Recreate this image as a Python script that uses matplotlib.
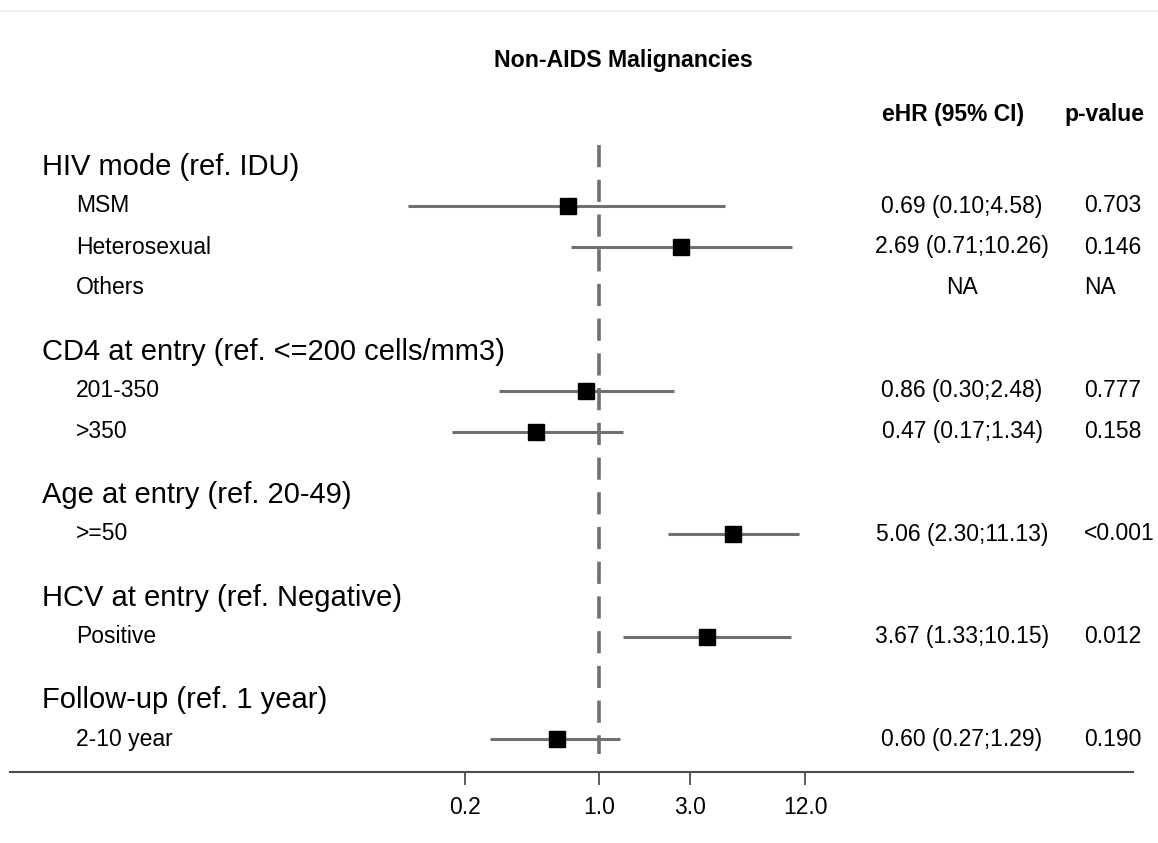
import numpy as np
import matplotlib
matplotlib.use('Agg')
import matplotlib.pyplot as plt
from matplotlib import transforms
from matplotlib.lines import Line2D

plt.rcParams['font.family'] = ['Liberation Sans', 'DejaVu Sans']
plt.rcParams['lines.scale_dashes'] = False

# data
groups = ['HIV mode (ref. IDU)', 'CD4 at entry (ref. <=200 cells/mm3)',
          'Age at entry (ref. 20-49)', 'HCV at entry (ref. Negative)',
          'Follow-up (ref. 1 year)']
group_items = [['MSM', 'Heterosexual', 'Others'],
               ['201-350', '>350'],
               ['>=50'],
               ['Positive'],
               ['2-10 year']]
hr = [0.69, 2.69, np.nan, 0.86, 0.47, 5.06, 3.67, 0.60]
ci_low = [0.10, 0.71, np.nan, 0.30, 0.17, 2.30, 1.33, 0.27]
ci_high = [4.58, 10.26, np.nan, 2.48, 1.34, 11.13, 10.15, 1.29]
ci_text = ['0.69 (0.10;4.58)', '2.69 (0.71;10.26)', 'NA', '0.86 (0.30;2.48)',
           '0.47 (0.17;1.34)', '5.06 (2.30;11.13)', '3.67 (1.33;10.15)',
           '0.60 (0.27;1.29)']
p_text = ['0.703', '0.146', 'NA', '0.777', '0.158', '<0.001', '0.012', '0.190']
xticks = [0.2, 1.0, 3.0, 12.0]
xtick_labels = ['0.2', '1.0', '3.0', '12.0']

# row layout: header row, then items, then a gap before next group
header_y = []
item_y = []
y = 0.0
for items in group_items:
    header_y.append(y)
    for k in range(len(items)):
        item_y.append(y + 1 + k)
    y = item_y[-1] + 1.5
item_labels = [lab for items in group_items for lab in items]

W, H = 1158, 843
fig = plt.figure(figsize=(W / 100, H / 100), dpi=100)
row_px = 41.0
y0_px = 165
ax_top_px, ax_bot_px = 130, 772
ax_left_px, ax_right_px = 10, 1133
ax = fig.add_axes([ax_left_px / W, 1 - ax_bot_px / H,
                   (ax_right_px - ax_left_px) / W, (ax_bot_px - ax_top_px) / H])
ax.set_xscale('log')
px_per_dec = 191.0
x_ref_px = 599
ax.set_xlim(10 ** ((ax_left_px - x_ref_px) / px_per_dec),
            10 ** ((ax_right_px - x_ref_px) / px_per_dec))
ax.set_ylim((ax_bot_px - y0_px) / row_px, (ax_top_px - y0_px) / row_px)

for s in ['top', 'right', 'left']:
    ax.spines[s].set_visible(False)
ax.spines['bottom'].set_color('#4d4d4d')
ax.spines['bottom'].set_linewidth(1.5)
ax.set_yticks([])
ax.set_xticks(xticks)
ax.set_xticklabels(xtick_labels)
ax.xaxis.set_minor_locator(matplotlib.ticker.NullLocator())
ax.tick_params(axis='x', length=9, width=1.3, color='#4d4d4d',
               labelsize=16.5, pad=8)

# reference line
ax.plot([1, 1], [-0.5, item_y[-1] + 0.37], color='#707070', lw=2.6,
        dashes=(16, 9), zorder=1)

gray = '#707070'
for yy, m, lo, hi in zip(item_y, hr, ci_low, ci_high):
    if np.isnan(m):
        continue
    ax.plot([lo, hi], [yy, yy], color=gray, lw=2.2, zorder=2, solid_capstyle='butt')
    ax.plot([m], [yy], marker='s', color='black', markersize=11, zorder=3)

tr = transforms.blended_transform_factory(fig.transFigure, ax.transData)
for g, yy in zip(groups, header_y):
    ax.text(42 / W, yy + 0.05, g, transform=tr, fontsize=21, va='center',
            ha='left', clip_on=False)
for lab, yy in zip(item_labels, item_y):
    ax.text(76 / W, yy, lab, transform=tr, fontsize=16.5, va='center',
            ha='left', clip_on=False)
for t, yy in zip(ci_text, item_y):
    ax.text(962 / W, yy, t, transform=tr, fontsize=16.5, va='center',
            ha='center', clip_on=False)
for t, yy in zip(p_text, item_y):
    ax.text(1084 / W, yy, t, transform=tr, fontsize=16.5, va='center',
            ha='left', clip_on=False)

fig.text(623 / W, 1 - 61 / H, 'Non-AIDS Malignancies', fontsize=16.7,
         fontweight='bold', ha='center', va='center')
fig.text(953 / W, 1 - 115 / H, 'eHR (95% CI)', fontsize=16.5,
         fontweight='bold', ha='center', va='center')
fig.text(1104 / W, 1 - 115 / H, 'p-value', fontsize=16.5,
         fontweight='bold', ha='center', va='center')

# faint border line at the very top
fig.add_artist(Line2D([0, 1], [1 - 11 / H, 1 - 11 / H], transform=fig.transFigure,
                      color='#eeeeee', lw=1.2))

fig.savefig('out.png', dpi=100)
